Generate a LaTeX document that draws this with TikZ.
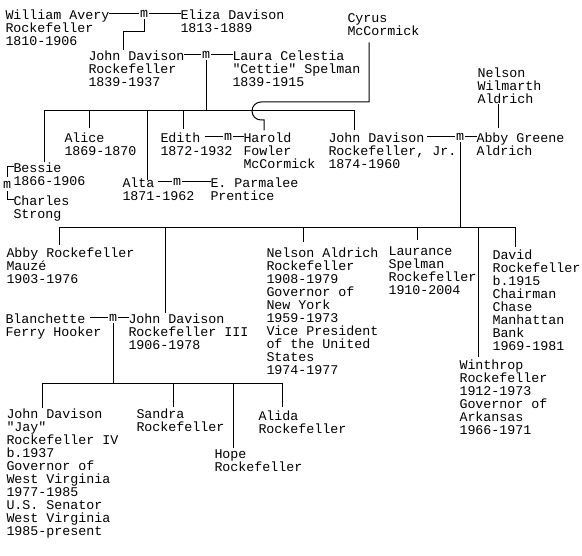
\documentclass[tikz,border=0pt]{standalone}
\usepackage{fontspec}
\setmonofont{Liberation Mono}
\begin{document}
\begin{tikzpicture}[x=1pt,y=-1pt,line width=1pt,line cap=rect,
    person/.style={anchor=north west,inner sep=0pt,align=left,
      font=\ttfamily\fontsize{13.33}{13}\selectfont,
      execute at begin node=\strut,execute at end node=\strut},
    wed/.style={inner sep=0pt,outer sep=1.5pt,
      font=\ttfamily\fontsize{13.33}{13}\selectfont}]
  \useasboundingbox (0,0) rectangle (582,556);

  \node[person] (wa) at (5,9) {William Avery\\Rockefeller\\1810-1906};
  \node[person] (ed) at (180,9) {Eliza Davison\\1813-1889};
  \node[person] (jd) at (88,50) {John Davison\\Rockefeller\\1839-1937};
  \node[person] (lc) at (232,50) {Laura Celestia\\"Cettie" Spelman\\1839-1915};
  \node[person] (cy) at (347,13) {Cyrus\\McCormick};
  \node[person] (nw) at (477,67) {Nelson\\Wilmarth\\Aldrich};

  \node[person] (bs) at (13,162) {Bessie\\1866-1906};
  \node[person] (cs) at (13,195) {Charles\\Strong};
  \node[person] (al) at (64,132) {Alice\\1869-1870};
  \node[person] (at) at (122,177) {Alta\\1871-1962};
  \node[person] (ep) at (210,177) {E. Parmalee\\Prentice};
  \node[person] (eh) at (160,132) {Edith\\1872-1932};
  \node[person] (hf) at (243,132) {Harold\\Fowler\\McCormick};
  \node[person] (jr) at (328,132) {John Davison\\Rockefeller, Jr.\\1874-1960};
  \node[person] (ag) at (476,132) {Abby Greene\\Aldrich};

  \node[person] (ab) at (6,247) {Abby Rockefeller\\Mauzé\\1903-1976};
  \node[person] (jt) at (128,313) {John Davison\\Rockefeller III\\1906-1978};
  \node[person] (bh) at (5,313) {Blanchette\\Ferry Hooker};
  \node[person] (nr) at (266,247) {Nelson Aldrich\\Rockefeller\\1908-1979\\Governor of\\New York\\1959-1973\\Vice President\\of the United\\States\\1974-1977};
  \node[person] (lr) at (388,246) {Laurance\\Spelman\\Rockefeller\\1910-2004};
  \node[person] (wr) at (459,359) {Winthrop\\Rockefeller\\1912-1973\\Governor of\\Arkansas\\1966-1971};
  \node[person] (dr) at (492,249) {David\\Rockefeller\\b.1915\\Chairman\\Chase\\Manhattan\\Bank\\1969-1981};

  \node[person] (jy) at (6,408) {John Davison\\"Jay"\\Rockefeller IV\\b.1937\\Governor of\\West Virginia\\1977-1985\\U.S. Senator\\West Virginia\\1985-present};
  \node[person] (sr) at (136,408) {Sandra\\Rockefeller};
  \node[person] (hr) at (214,449) {Hope\\Rockefeller};
  \node[person] (ar) at (258,410) {Alida\\Rockefeller};

  \node[wed] (m1) at (144,14) {m};
  \node[wed] (m2) at (206,55) {m};
  \node[wed] (m3) at (177,182) {m};
  \node[wed] (m4) at (228,137) {m};
  \node[wed] (m5) at (460,137) {m};
  \node[wed] (m6) at (7,185) {m};
  \node[wed] (m7) at (113,318) {m};

  \coordinate (k1) at (123,32);
  \coordinate (f1) at (206,111);
  \coordinate (f2) at (460,228);
  \coordinate (f3) at (113,384);
  \coordinate (hop) at (261,102);
  \coordinate (at1) at (158,182);
  \coordinate (eh1) at (205,137);
  \coordinate (jr1) at (427,137);
  \coordinate (bh1) at (90,318);

  \draw (m1.west) -- (m1.west -| wa.east);
  \draw (m1.east) -- (m1.east -| ed.west);
  \draw (m1.south) |- (k1) -- (k1 |- jd.north);

  \draw (m2.west) -- (m2.west -| jd.east);
  \draw (m2.east) -- (m2.east -| lc.west);
  \draw (m2.south) -- (f1);
  \foreach \c/\dx/\dy in {bs/31/0,al/25/4,at/25/-3,eh/23/3,jr/26/2}
    \draw (f1) -| ([xshift=\dx,yshift=\dy]\c.north west);

  \draw ([xshift=22,yshift=-3]cy.south west) |- (hop)
    arc[start angle=90,end angle=270,radius=9pt]
    -| ([xshift=21,yshift=2]hf.north west);

  \draw ([yshift=-5]bs.north west) -| ([yshift=3]m6.north);
  \draw ([yshift=-5]cs.north west) -| ([yshift=-1]m6.south);
  \draw (m3.west) -- (at1);
  \draw (m3.east) -- (m3.east -| ep.west);
  \draw (m4.west) -- (eh1);
  \draw (m4.east) -- (m4.east -| hf.west);

  \draw (m5.west) -- (jr1);
  \draw (m5.east) -- (m5.east -| ag.west);
  \draw ([xshift=21,yshift=3]nw.south west) -- ([xshift=22,yshift=4]ag.north west);
  \draw (m5.south) -- (f2);
  \foreach \c/\dx/\dy in {ab/53/2,jt/37/0,nr/37/5,lr/29/6,wr/19/2,dr/23/2}
    \draw (f2) -| ([xshift=\dx,yshift=\dy]\c.north west);

  \draw (m7.west) -- (bh1);
  \draw (m7.east) -- (m7.east -| jt.west);
  \draw (m7.south) -- (f3);
  \foreach \c/\dx/\dy in {jy/36/0,sr/37/1,hr/19/1,ar/24/3}
    \draw (f3) -| ([xshift=\dx,yshift=\dy]\c.north west);
\end{tikzpicture}
\end{document}
